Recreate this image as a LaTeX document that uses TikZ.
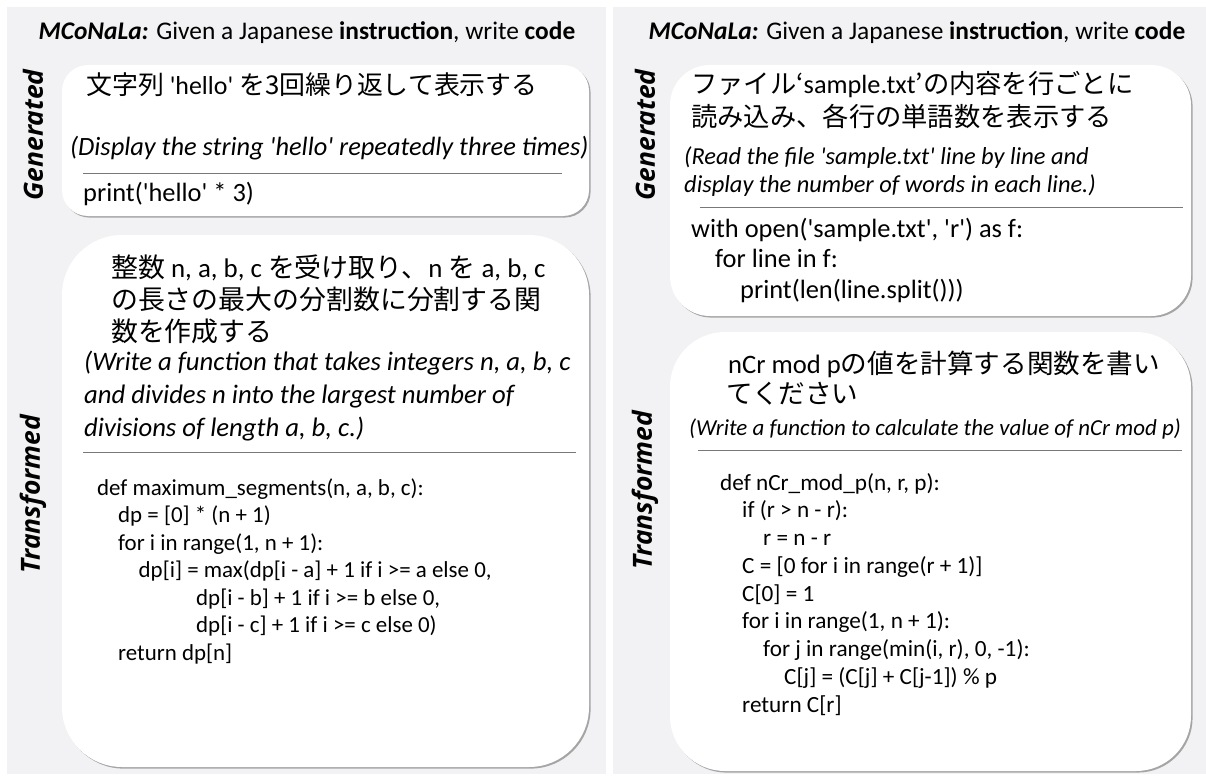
\documentclass[tikz,border=0pt]{standalone}
\usepackage{fontspec}
\setmainfont{Carlito}[Ligatures=TeXOff]
\newfontfamily\jpf{Noto Sans CJK JP}
\newfontfamily\lblf{Open Sans}[Ligatures=TeXOff]
\usetikzlibrary{shadows}
\definecolor{panelgray}{RGB}{242,242,244}
\definecolor{sepgray}{RGB}{120,120,120}
\newcommand{\jp}[1]{{\jpf #1}}
\newcommand{\fs}[1]{\fontsize{#1}{#1}\selectfont}
\begin{document}
\begin{tikzpicture}[x=1bp,y=-1bp,
  panel/.style={fill=panelgray, draw=none},
  card/.style={fill=white, draw=none, drop shadow={shadow xshift=1.6bp, shadow yshift=-1.6bp, fill=black!60, opacity=0.55}},
  ttl/.style={font=\fs{25.5}, anchor=base, inner sep=0pt},
  side/.style={font=\lblf\bfseries\itshape\fs{26.5}, rotate=90, inner sep=0pt},
  txt/.style={anchor=base west, inner sep=0pt},
  sep/.style={draw=sepgray, line width=0.9bp}
]
\useasboundingbox (0,0) rectangle (1206,778);
% panels
\fill[panel] (7,7) rectangle (606,774);
\fill[panel] (613,7) rectangle (1206,774);
% cards
\fill[card, rounded corners=26bp] (62,65) rectangle (589,216);
\fill[card, rounded corners=60bp] (62,235) rectangle (589,767);
\fill[card, rounded corners=40bp] (670,65) rectangle (1191,316);
\fill[card, rounded corners=55bp] (670,332) rectangle (1191,771);

% titles
\node[ttl] (t1) at (307,40) {\textbf{\textit{MCoNaLa:}} Given a Japanese \textbf{instruction}, write \textbf{code}};
\node[ttl] (t2) at (917,40) {\textbf{\textit{MCoNaLa:}} Given a Japanese \textbf{instruction}, write \textbf{code}};

% side labels
\node[side] (g1) at (33,135) {Generated};
\node[side] (tr1) at (33,494) {Transformed};
\node[side] (g2) at (645,135) {Generated};
\node[side] (tr2) at (645,490) {Transformed};

% ---- left generated
\node[txt, font=\fs{26}] (lgj) at (86,95) {\jp{文字列} 'hello' \jp{を3回繰り返して表示する}};
\node[txt, font=\itshape\fs{26.5}] (lge) at (70,155) {(Display the string 'hello' repeatedly three times)};
\draw[sep] (83,173) -- (562,173);
\node[txt, font=\fs{26.5}] (lgc) at (83,201) {print('hello' * 3)};

% ---- left transformed
\begin{scope}[every node/.append style={txt, font=\fs{27}}]
\node (ltj1) at (111,277) {\jp{整数} n, a, b, c \jp{を受け取り、}n \jp{を} a, b, c};
\node (ltj2) at (111,309) {\jp{の長さの最大の分割数に分割する関}};
\node (ltj3) at (111,341) {\jp{数を作成する}};
\end{scope}
\begin{scope}[every node/.append style={txt, font=\itshape\fs{26.8}}]
\node (lte1) at (84,370) {(Write a function that takes integers n, a, b, c};
\node (lte2) at (84,403) {and divides n into the largest number of};
\node (lte3) at (84,436) {divisions of length a, b, c.)};
\end{scope}
\draw[sep] (83,452) -- (576,452);
\begin{scope}[every node/.append style={txt, font=\fs{23}}]
\node (ltc1) at (97,495) {def maximum\_segments(n, a, b, c):};
\node (ltc2) at (118,522.5) {dp = [0] * (n + 1)};
\node (ltc3) at (118,550) {for i in range(1, n + 1):};
\node (ltc4) at (138.5,577.5) {dp[i] = max(dp[i - a] + 1 if i >= a else 0,};
\node (ltc5) at (196,605) {dp[i - b] + 1 if i >= b else 0,};
\node (ltc6) at (196,632.5) {dp[i - c] + 1 if i >= c else 0)};
\node (ltc7) at (118,660) {return dp[n]};
\end{scope}

% ---- right generated
\begin{scope}[every node/.append style={txt, font=\fs{26.4}}]
\node (rgj1) at (691,94) {\jp{ファイル‘}sample.txt\jp{’の内容を行ごとに}};
\node (rgj2) at (691,126) {\jp{読み込み、各行の単語数を表示する}};
\end{scope}
\begin{scope}[every node/.append style={txt, font=\itshape\fs{24.5}}]
\node (rge1) at (684,164) {(Read the file 'sample.txt' line by line and};
\node (rge2) at (684,192) {display the number of words in each line.)};
\end{scope}
\draw[sep] (700,207) -- (1183,207);
\begin{scope}[every node/.append style={txt, font=\fs{26.5}}]
\node (rgc1) at (691,237) {with open('sample.txt', 'r') as f:};
\node (rgc2) at (715,267) {for line in f:};
\node (rgc3) at (740,298) {print(len(line.split()))};
\end{scope}

% ---- right transformed
\begin{scope}[every node/.append style={txt, font=\fs{26.7}}]
\node (rtj1) at (728,373) {nCr mod p\jp{の値を計算する関数を書い}};
\node (rtj2) at (726,403) {\jp{てください}};
\end{scope}
\node[txt, font=\itshape\fs{23}] (rte1) at (689,435) {(Write a function to calculate the value of nCr mod p)};
\draw[sep] (698,450) -- (1182,450);
\begin{scope}[every node/.append style={txt, font=\fs{23.3}}]
\node (rtc1) at (720,490) {def nCr\_mod\_p(n, r, p):};
\node (rtc2) at (742,517.75) {if (r > n - r):};
\node (rtc3) at (763,545.5) {r = n - r};
\node (rtc4) at (742,573.25) {C = [0 for i in range(r + 1)]};
\node (rtc5) at (742,601) {C[0] = 1};
\node (rtc6) at (742,628.75) {for i in range(1, n + 1):};
\node (rtc7) at (763,656.5) {for j in range(min(i, r), 0, -1):};
\node (rtc8) at (784,684.25) {C[j] = (C[j] + C[j-1]) \% p};
\node (rtc9) at (742,712) {return C[r]};
\end{scope}
\end{tikzpicture}
\end{document}
